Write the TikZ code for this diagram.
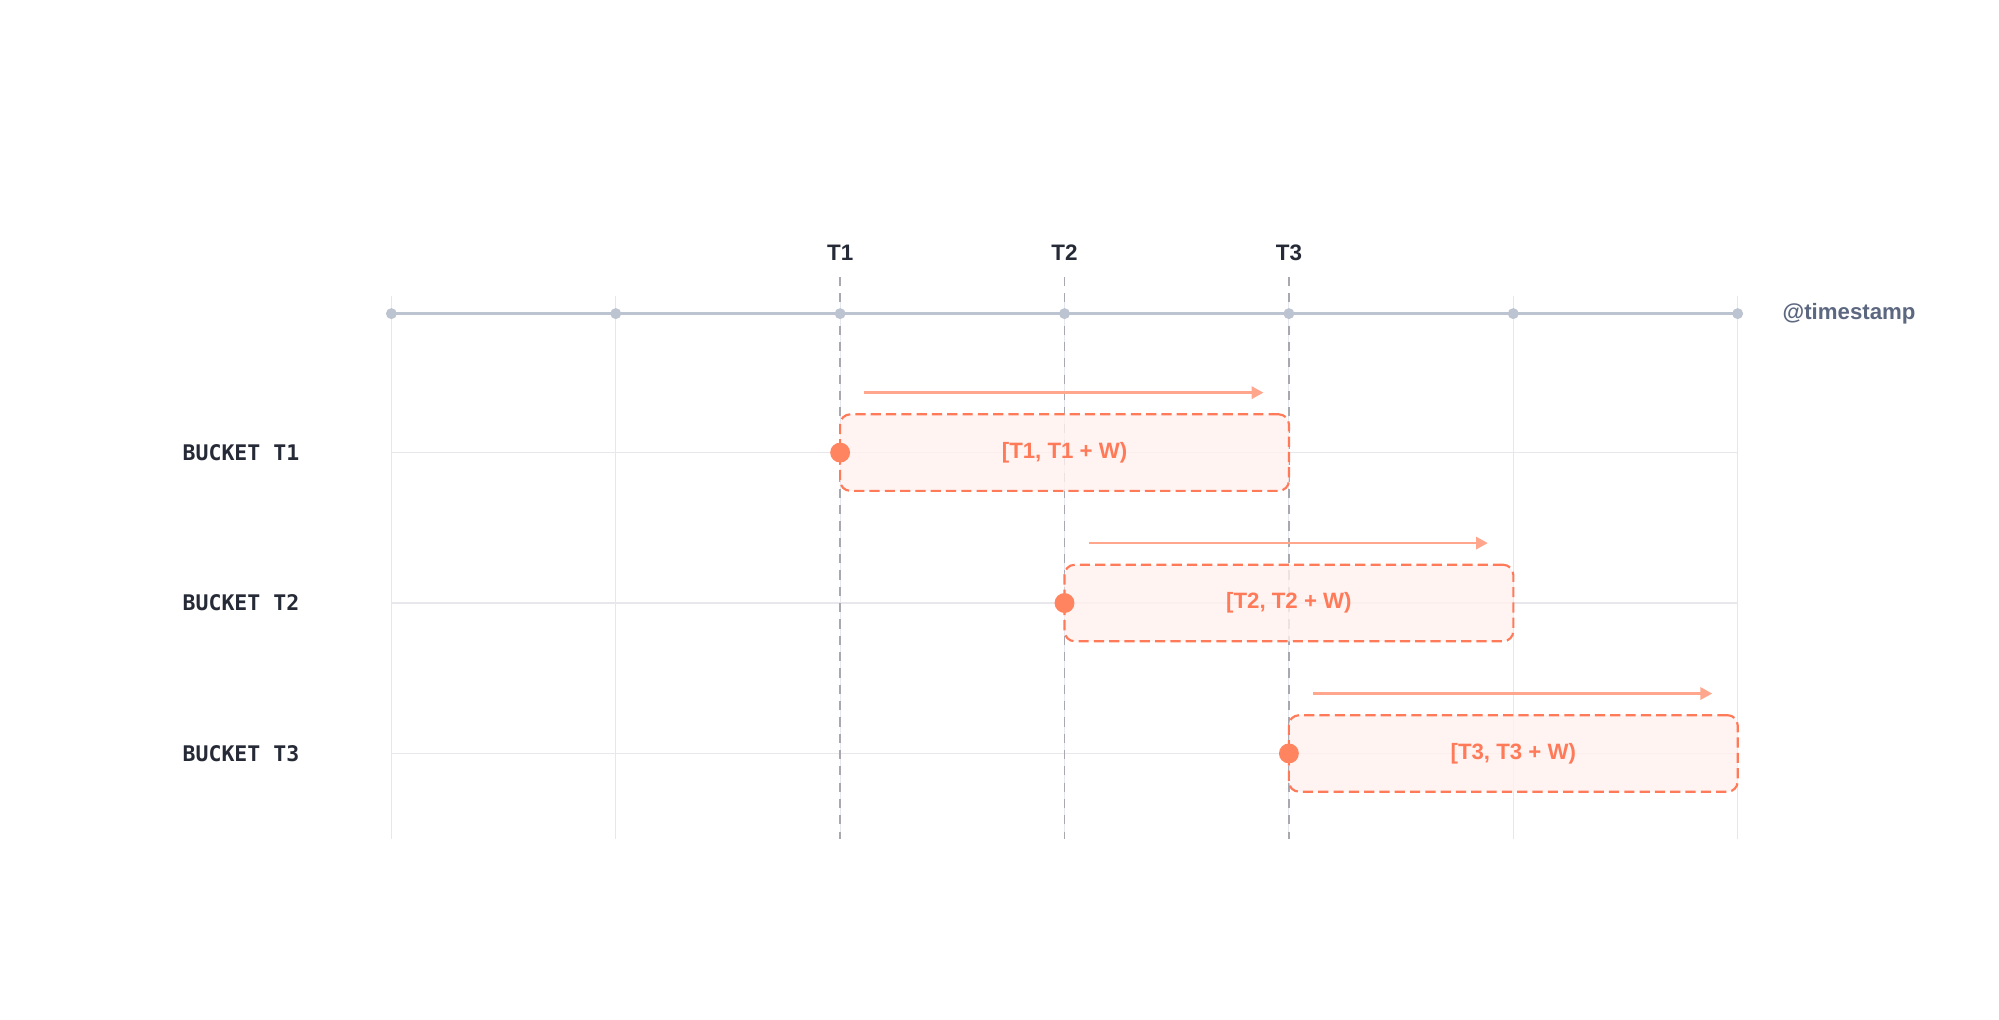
\documentclass[tikz,border=0pt]{standalone}
\usepackage{fontspec}
\setmainfont{Liberation Sans}
\newfontfamily\bucketfont{DejaVu Sans Mono}
\usetikzlibrary{arrows.meta,positioning}

\definecolor{inkdark}{HTML}{252A36}
\definecolor{stampgray}{HTML}{5C6780}
\definecolor{axisgray}{HTML}{BCC3D1}
\definecolor{gridgray}{HTML}{E4E7EE}
\definecolor{rowgray}{HTML}{E8E8EC}
\definecolor{markgray}{HTML}{A8A8B0}
\definecolor{winorange}{HTML}{FF7A59}
\definecolor{winfill}{HTML}{FFF1EE}
\definecolor{dotorange}{HTML}{FF845F}
\definecolor{slideorange}{HTML}{FFA68C}

\begin{document}
\begin{tikzpicture}[
    x=0.025cm, y=-0.025cm,
    grid/.style={draw=gridgray, line width=0.6pt},
    rowline/.style={draw=rowgray, line width=0.7pt},
    tmark/.style={draw=markgray, line width=0.8pt, dash pattern=on 0.18cm off 0.14cm},
    axisline/.style={draw=axisgray, line width=1.3pt},
    axisdot/.style={circle, fill=axisgray, inner sep=0pt, minimum size=0.215cm},
    tlabel/.style={font=\bfseries\fontsize{12.5}{14}\selectfont, text=inkdark},
    stamp/.style={font=\bfseries\fontsize{12.4}{14}\selectfont, text=stampgray, anchor=west, inner sep=0pt},
    bucket/.style={font=\bucketfont\bfseries\fontsize{12}{14}\selectfont, text=inkdark, anchor=west, inner sep=0pt},
    window/.style={rectangle, rounded corners=0.2cm, draw=winorange, line width=1.2pt,
        dash pattern=on 0.2cm off 0.1cm, fill=winfill, fill opacity=0.8, text opacity=1,
        minimum width=8.8cm, minimum height=1.5cm, inner sep=0pt,
        font=\bfseries\fontsize{12.4}{14}\selectfont, text=winorange},
    startdot/.style={circle, fill=dotorange, inner sep=0pt, minimum size=0.39cm},
    slide/.style={draw=slideorange, line width=1.3pt, -{Triangle[length=0.23cm, width=0.24cm]}}
]
    \useasboundingbox (0,0) rectangle (1568,800);

    % Griglia verticale
    \foreach \i in {0,...,6}
        \draw[grid] ({307+176*\i},232) -- ({307+176*\i},658);

    % Righe dei bucket
    \foreach \y in {355,473,591}
        \draw[rowline] (307,\y) -- (1363,\y);

    % Istanti T1, T2, T3
    \foreach \i/\n in {2/1,3/2,4/3} {
        \draw[tmark] ({307+176*\i},217) -- ({307+176*\i},658);
        \node[tlabel] (t\n) at ({307+176*\i},198) {T\n};
    }

    % Asse dei timestamp
    \foreach \i in {0,...,6}
        \node[axisdot] (tick\i) at ({307+176*\i},246) {};
    \draw[axisline] (tick0.center) -- (tick6.center);
    \node[stamp] (stamp) at (1398,246) {@timestamp};

    % Finestre dei bucket
    \foreach \n/\x/\y in {1/659/355, 2/835/473, 3/1011/591} {
        \node[bucket] (bucket\n) at (143,\y) {BUCKET T\n};
        \node[window] (win\n) at ({\x+176},\y) {[T\n, T\n{} + W)};
        \node[startdot] (start\n) at (\x,\y) {};
        \coordinate (from\n) at ({\x+19},{\y-47});
        \coordinate (to\n) at ({\x+332},{\y-47});
        \draw[slide] (from\n) -- (to\n);
    }
\end{tikzpicture}
\end{document}
